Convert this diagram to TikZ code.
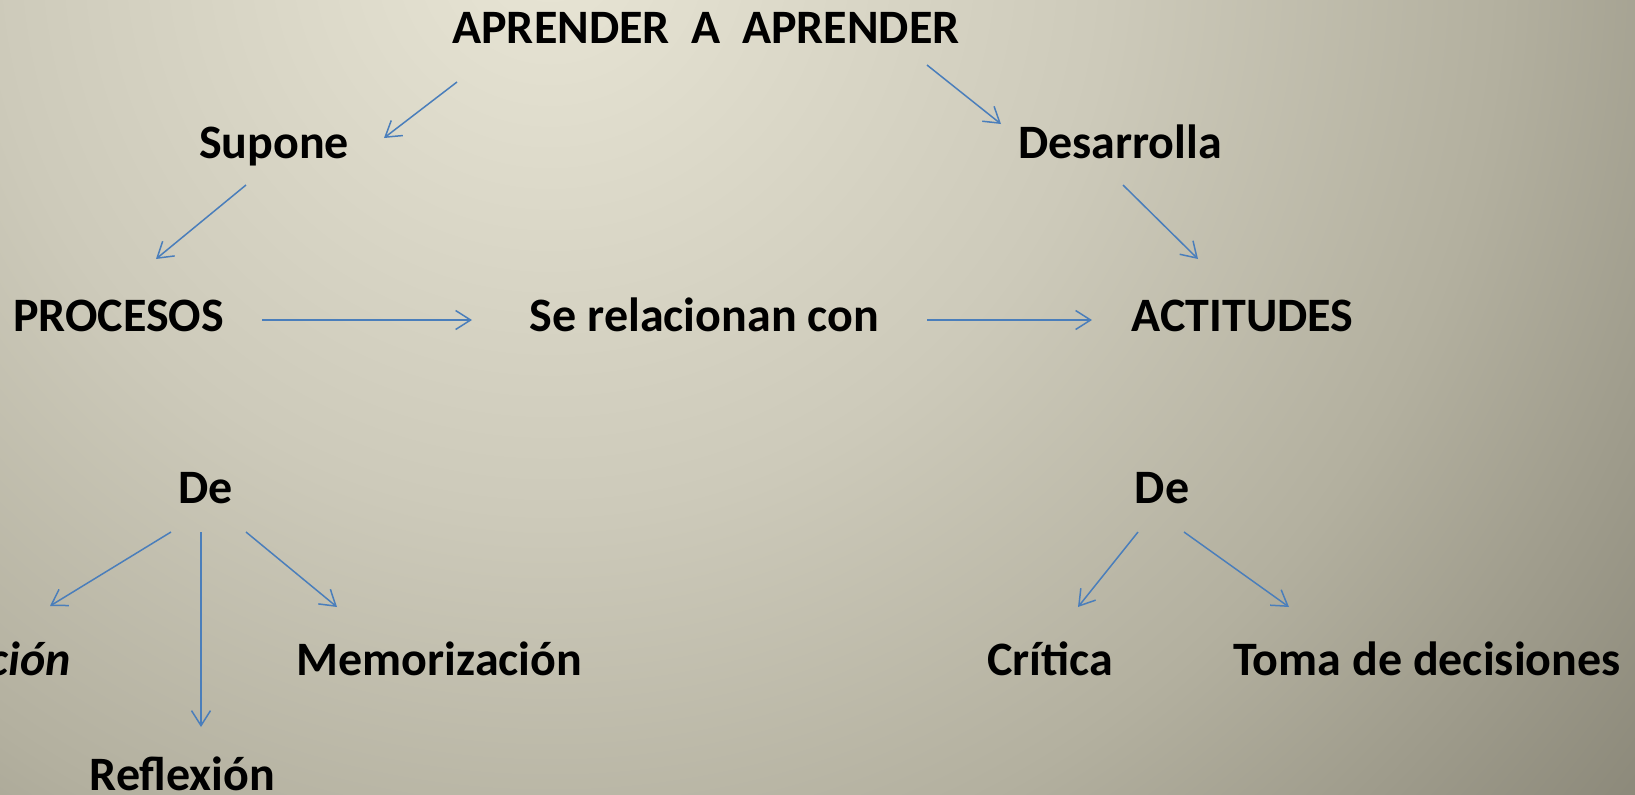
\documentclass[tikz,border=0pt]{standalone}
\usepackage{fontspec}
\setmainfont{Carlito}
\usetikzlibrary{arrows.meta}
\definecolor{bgA}{HTML}{E8E5D5}
\definecolor{bgB}{HTML}{CDCABA}
\definecolor{bgC}{HTML}{B3B09F}
\definecolor{bgD}{HTML}{8A8778}
\definecolor{linkblue}{HTML}{4A7EBB}
\pgfdeclareradialshading{bgshade}{\pgfpoint{0bp}{0bp}}{color(0bp)=(bgA); color(10bp)=(bgB); color(17bp)=(bgC); color(25bp)=(bgD); color(50bp)=(bgD)}

\begin{document}
\begin{tikzpicture}[x=0.5pt, y=-0.5pt,
  every node/.style={font=\bfseries\fontsize{24}{29}\selectfont, inner sep=0pt, anchor=base},
  link/.style={draw=linkblue, line width=0.75pt, -{Straight Barb[length=7.5pt,width=9.5pt]}}]

  \useasboundingbox (0,0) rectangle (1635,794);
  \clip (0,0) rectangle (1635,794);
  \shade[shading=bgshade] (550,-50) circle[radius=700pt];

  \node (ap) at (706,43) {APRENDER\ \ A\ \ APRENDER};
  \node (sup) at (274,158) {Supone};
  \node (des) at (1120,158) {Desarrolla};
  \node (proc) at (118.5,331) {PROCESOS};
  \node (rel) at (704.5,331) {Se relacionan con};
  \node (act) at (1242.5,331) {ACTITUDES};
  \node (dep) at (205.5,503) {De};
  \node (dea) at (1162,503) {De};
  \node[anchor=base east] (aten) at (71,675) {\itshape Atención};
  \node (refl) at (182.5,790) {Reflexión};
  \node (mem) at (439.5,675) {Memorización};
  \node (crit) at (1050,675) {Crítica};
  \node (toma) at (1427,675) {Toma de decisiones};

  \draw [link] ([shift={(-249,39)}]ap.base) to ([shift={(110,-20)}]sup.base);
  \draw [link] ([shift={(221,22)}]ap.base) to ([shift={(-119,-34)}]des.base);
  \draw [link] ([shift={(-28,27)}]sup.base) to ([shift={(37.5,-72)}]proc.base);
  \draw [link] ([shift={(3,27)}]des.base) to ([shift={(-44.5,-72)}]act.base);
  \draw [link] ([shift={(143.5,-11)}]proc.base) to ([shift={(-232.5,-11)}]rel.base);
  \draw [link] ([shift={(222.5,-11)}]rel.base) to ([shift={(-150.5,-11)}]act.base);
  \draw [link] ([shift={(-34.5,29)}]dep.base) to ([shift={(-21,-69)}]aten.base east);
  \draw [link] ([shift={(-4.5,29)}]dep.base) to ([shift={(18.5,-63)}]refl.base);
  \draw [link] ([shift={(40.5,29)}]dep.base) to ([shift={(-102.5,-68)}]mem.base);
  \draw [link] ([shift={(-24,29)}]dea.base) to ([shift={(28,-68)}]crit.base);
  \draw [link] ([shift={(22,29)}]dea.base) to ([shift={(-138,-68)}]toma.base);

\end{tikzpicture}
\end{document}
